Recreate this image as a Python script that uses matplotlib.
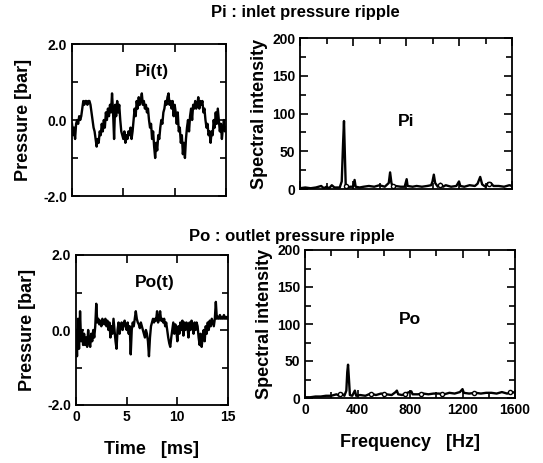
import numpy as np
import matplotlib
matplotlib.use("Agg")
import matplotlib.pyplot as plt
from matplotlib.ticker import MultipleLocator

plt.rcParams['font.family'] = ['Liberation Sans', 'DejaVu Sans']
plt.rcParams['font.weight'] = 'bold'

# inlet pressure ripple, 0.1 ms steps from 0 to 15 ms [bar]
pi_t = [
    -0.1, -0.4, -0.2, -0.5, -0.1, 0.0, -0.1, 0.1, 0.0, 0.1,
    0.3, 0.5, 0.4, 0.5, 0.5, 0.4, 0.5, 0.5, 0.4, 0.2,
    0.0, -0.2, -0.3, -0.5, -0.7, -0.5, -0.6, -0.3, -0.4, -0.1,
    -0.3, 0.0, -0.2, 0.2, 0.0, 0.3, 0.1, 0.4, 0.2, 0.7,
    0.2, -0.5, 0.4, 0.1, 0.5, 0.2, 0.4, 0.0, -0.3, -0.4,
    -0.5, -0.3, -0.6, -0.4, -0.5, -0.3, -0.4, -0.2, -0.5, -0.3,
    0.0, 0.3, 0.1, 0.5, 0.3, 0.6, 0.4, 0.5, 0.7, 0.4,
    0.5, 0.3, 0.4, 0.2, 0.3, 0.0, -0.2, -0.1, -0.5, -0.3,
    -0.7, -1.0, -0.6, -0.8, -0.4, -0.5, -0.2, 0.0, -0.1, 0.2,
    0.3, 0.5, 0.4, 0.6, 0.7, 0.4, 0.5, 0.3, 0.5, 0.1,
    0.4, 0.2, -0.1, 0.2, -0.3, -0.2, -0.6, -0.4, -0.9, -0.6,
    -1.0, -0.5, -0.2, 0.0, -0.3, 0.1, 0.3, 0.0, 0.4, 0.3,
    0.5, 0.3, 0.4, 0.6, 0.3, 0.5, 0.4, 0.5, 0.2, 0.3,
    0.0, -0.2, -0.1, -0.4, -0.3, -0.6, -0.3, -0.4, 0.0, -0.2,
    0.2, -0.1, 0.3, 0.0, -0.3, -0.1, -0.5, -0.2, 0.0, -0.3,
    -0.2,
]

# outlet pressure ripple, same sampling [bar]
po_t = [
    0.0, -0.7, 0.3, -0.5, 0.5, -0.3, 0.0, -0.4, -0.1, -0.4,
    -0.2, -0.45, 0.0, -0.3, -0.45, -0.1, -0.3, 0.0, -0.2, 0.1,
    0.7, 0.2, 0.3, 0.15, 0.25, 0.1, 0.3, 0.2, 0.15, 0.3,
    0.1, 0.25, 0.0, 0.2, -0.2, 0.1, -0.1, 0.3, 0.0, -0.3,
    -0.5, 0.0, 0.2, -0.1, 0.1, 0.2, 0.0, 0.15, 0.25, 0.1,
    0.0, 0.2, -0.1, 0.1, -0.65, 0.0, 0.2, 0.1, 0.3, 0.5,
    0.3, 0.2, 0.15, 0.05, 0.2, 0.1, 0.0, -0.1, -0.2, 0.0,
    -0.1, -0.3, -0.7, -0.2, 0.1, 0.2, 0.3, 0.2, 0.3, 0.25,
    0.5, 0.2, 0.3, 0.5, 0.25, 0.3, 0.2, 0.3, 0.1, 0.2,
    0.0, -0.2, -0.35, -0.45, -0.2, 0.0, 0.2, -0.1, 0.15, 0.0,
    -0.3, 0.1, -0.1, 0.2, 0.0, 0.25, -0.15, 0.2, 0.0, 0.2,
    0.1, -0.2, 0.2, 0.0, 0.25, 0.1, -0.1, 0.2, 0.0, 0.2,
    0.1, -0.2, -0.4, -0.1, -0.45, -0.2, 0.0, -0.3, 0.1, -0.1,
    0.2, 0.0, 0.25, 0.1, 0.3, 0.2, 0.1, 0.3, 0.75, 0.3,
    0.35, 0.3, 0.4, 0.3, 0.35, 0.3, 0.4, 0.3, 0.35, 0.3,
    0.35,
]
time_ms = np.linspace(0, 15, len(pi_t))

# spectra
pi_freq = [0, 40, 80, 120, 160, 180, 200, 220, 240, 260, 300, 315, 325, 332, 338, 345,
           360, 380, 400, 412, 420, 450, 480, 520, 560, 600, 640, 670, 680, 690, 700,
           720, 760, 790, 805, 812, 850, 880, 920, 960, 990, 1000, 1010, 1020, 1040,
           1060, 1080, 1100, 1140, 1180, 1200, 1210, 1240, 1280, 1320, 1340, 1360,
           1375, 1400, 1420, 1440, 1460, 1500, 1540, 1580, 1600]
pi_spec = [1, 2, 1, 2, 4, 1, 3, 1, 5, 2, 2, 10, 60, 90, 50, 5,
           2, 3, 3, 12, 3, 2, 3, 4, 3, 5, 3, 8, 22, 8, 3,
           4, 3, 3, 13, 4, 3, 4, 3, 4, 5, 10, 19, 8, 3,
           7, 3, 5, 3, 4, 10, 4, 3, 5, 4, 7, 16,
           6, 3, 8, 8, 4, 4, 3, 5, 4]
pi_loop_f = [345, 700, 1060, 1430]
pi_loop_v = [4, 4, 5, 7]

po_freq = [0, 40, 80, 120, 160, 200, 240, 260, 280, 300, 315, 322, 328, 335, 342,
           360, 380, 390, 420, 460, 500, 540, 580, 620, 660, 690, 700, 710, 740,
           780, 810, 820, 860, 900, 940, 980, 1020, 1060, 1100, 1140, 1180, 1200,
           1210, 1250, 1300, 1340, 1380, 1420, 1460, 1500, 1540, 1580, 1600]
po_spec = [1, 1, 2, 2, 3, 3, 5, 3, 6, 3, 10, 35, 45, 25, 4,
           3, 10, 3, 4, 3, 6, 4, 6, 5, 4, 8, 10, 5, 4,
           7, 9, 5, 5, 6, 5, 6, 6, 5, 7, 6, 8, 12,
           7, 6, 7, 6, 7, 7, 6, 8, 6, 8, 7]
po_loop_f = [270, 500, 600, 760, 880, 1040, 1290, 1560]
po_loop_v = [5, 5, 6, 5, 6, 6, 7, 8]

W, H = 543, 463
fig = plt.figure(figsize=(W / 100, H / 100), dpi=100)


def box(l, t, r, b):
    return [l / W, 1 - b / H, (r - l) / W, (b - t) / H]


ax1 = fig.add_axes(box(72, 44, 226, 196))
ax2 = fig.add_axes(box(300, 38, 512, 189))
ax3 = fig.add_axes(box(76, 255, 228, 405))
ax4 = fig.add_axes(box(305, 250, 515, 398))

for ax in (ax1, ax2, ax3, ax4):
    ax.tick_params(which='both', direction='in', top=True, right=True, labelsize=10, width=1.2)
    ax.tick_params(which='major', length=6)
    ax.tick_params(which='minor', length=4)
    for s in ax.spines.values():
        s.set_linewidth(1.3)

for ax, data, label in ((ax1, pi_t, 'Pi(t)'), (ax3, po_t, 'Po(t)')):
    ax.plot(time_ms, data, color='black', lw=1.7)
    ax.set_xlim(0, 15)
    ax.set_ylim(-2, 2)
    ax.xaxis.set_major_locator(MultipleLocator(5))
    ax.yaxis.set_major_locator(MultipleLocator(2))
    ax.yaxis.set_minor_locator(MultipleLocator(1))
    ax.yaxis.set_major_formatter(plt.FormatStrFormatter('%.1f'))
    ax.set_ylabel('Pressure [bar]', fontsize=13, fontweight='bold', labelpad=8)
    ax.text(0.52, 0.82, label, transform=ax.transAxes, ha='center', va='center',
            fontsize=12.5, fontweight='bold')

for ax, fr, sp, lf, lv, label, ly in ((ax2, pi_freq, pi_spec, pi_loop_f, pi_loop_v, 'Pi', 0.45),
                                      (ax4, po_freq, po_spec, po_loop_f, po_loop_v, 'Po', 0.53)):
    ax.plot(fr, sp, color='black', lw=1.7)
    ax.plot(lf, lv, ls='none', marker='o', ms=3, mfc='white', mec='black', mew=1.0)
    ax.set_xlim(0, 1600)
    ax.set_ylim(0, 200)
    ax.xaxis.set_major_locator(MultipleLocator(400))
    ax.xaxis.set_minor_locator(MultipleLocator(200))
    ax.yaxis.set_major_locator(MultipleLocator(50))
    ax.yaxis.set_minor_locator(MultipleLocator(25))
    ax.set_ylabel('Spectral intensity', fontsize=13, fontweight='bold', labelpad=3)
    ax.text(0.5, ly, label, transform=ax.transAxes, ha='center', va='center',
            fontsize=12.5, fontweight='bold')

ax1.tick_params(labelbottom=False)
ax2.tick_params(labelbottom=False)
ax3.set_xlabel('Time   [ms]', fontsize=13, fontweight='bold', labelpad=12)
ax4.set_xlabel('Frequency   [Hz]', fontsize=13, fontweight='bold', labelpad=12)

fig.text(305 / W, 1 - 12 / H, 'Pi : inlet pressure ripple', ha='center', va='center',
         fontsize=12, fontweight='bold')
fig.text(292 / W, 1 - 236 / H, 'Po : outlet pressure ripple', ha='center', va='center',
         fontsize=12, fontweight='bold')

fig.savefig('out.png', dpi=100)
